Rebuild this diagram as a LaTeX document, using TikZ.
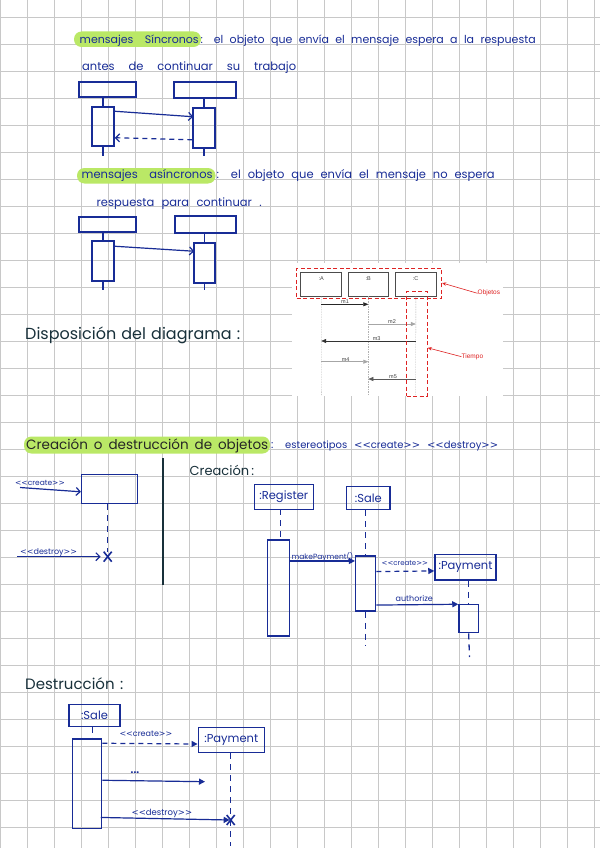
\documentclass[tikz,border=0pt]{standalone}
\usepackage{fontspec}
\setmainfont{Poppins}[Ligatures=TeXOff]
\newfontfamily\shotfont{Liberation Sans}
\newfontfamily\angf{DejaVu Sans}[Ligatures=TeXOff]
\usetikzlibrary{arrows.meta,calc}
\definecolor{inkblue}{RGB}{24,44,150}
\definecolor{darkink}{RGB}{24,48,58}
\definecolor{hilite}{RGB}{186,232,102}
\definecolor{gridgray}{RGB}{200,200,200}
\definecolor{shotred}{RGB}{222,35,35}
\newcommand\bxat[7]{\node[#1, minimum width={(#5)-(#3)}, minimum height={(#6)-(#4)}] (#2) at ({((#3)+(#5))/2},{((#4)+(#6))/2}) {#7};}
\newcommand\wtxt[1]{\fontsize{#1}{#1}\selectfont}
\newcommand\opn{{\angf<<}}
\newcommand\cls{{\angf>>}}
\begin{document}
\begin{tikzpicture}[x=1pt,y=-1pt,
  hw/.style={inner sep=0pt, anchor=base west, text=inkblue, font=\wtxt{11.5}},
  hd/.style={inner sep=0pt, anchor=base west, text=darkink},
  lbl/.style={inner sep=0pt, anchor=base west, text=inkblue, font=\wtxt{7.5}},
  bx/.style={draw=inkblue, line width=1.5pt, inner sep=0pt},
  obj/.style={draw=inkblue, line width=1.5pt, inner sep=0pt, text=inkblue, font=\wtxt{11.5}},
  life/.style={draw=inkblue, line width=1.3pt, dash pattern=on 6pt off 5pt},
  msg/.style={draw=inkblue, line width=1.2pt},
  dmsg/.style={draw=inkblue, line width=1.2pt, dash pattern=on 5pt off 4pt},
  openarr/.style={-{Straight Barb[length=4pt,width=8pt,line width=1.2pt]}},
  fillarr/.style={-{Triangle[length=6pt,width=6pt]}},
  hl/.style={fill=hilite, rounded corners=7.5pt},
  shotbox/.style={draw=black!70, line width=0.7pt, inner sep=0pt},
  shotlbl/.style={inner sep=0pt, font=\shotfont\fontsize{5.5}{5.5}\selectfont, text=black!75},
  shotlife/.style={draw=black!30, line width=0.4pt, dash pattern=on 1.5pt off 1pt},
  shotarr/.style={-{Triangle[length=5pt,width=4pt]}, line width=0.6pt},
  reddash/.style={draw=shotred, line width=0.9pt, dash pattern=on 4pt off 2.5pt},
  redarr/.style={draw=shotred, line width=0.6pt, -{Stealth[length=4pt,width=3.5pt]}},
  redlbl/.style={inner sep=0pt, anchor=west, text=shotred, font=\shotfont\fontsize{6.5}{7}\selectfont},
]
\useasboundingbox (0,0) rectangle (600,848);
\fill[white] (0,0) rectangle (600,848);
% grid
\foreach \i in {0,...,22} \draw[gridgray, line width=0.8pt] ({27*\i},0) -- ({27*\i},848);
\foreach \j in {0,...,30} \draw[gridgray, line width=0.8pt] (0,{17.3+27*\j}) -- (600,{17.3+27*\j});

% ---------- mensajes sincronos ----------
\fill[hl] (74,31.5) rectangle (201,47);
\node[hw, font=\wtxt{11}] (t1a) at (79.5,44) {\makebox[119pt][s]{mensajes Síncronos}};
\node[hw, font=\wtxt{11}] (t1b) at (200.5,44) {\makebox[335pt][s]{: el objeto que envía el mensaje espera a la respuesta}};
\node[hw] (t1c) at (82,71) {\makebox[214pt][s]{antes de continuar su trabajo}};

\bxat{bx}{s1a}{79}{82}{136}{97}{}
\bxat{bx}{s1b}{174}{82}{236}{98}{}
\bxat{bx}{s1aa}{92}{107}{114}{146}{}
\bxat{bx}{s1ba}{193}{108}{215}{148}{}
\coordinate (s1ae) at (103,156);
\coordinate (s1be) at (204,156);
\draw[msg] (s1aa.north) -- (s1aa.north |- s1a.south);
\draw[msg] (s1ba.north) -- (s1ba.north |- s1b.south);
\draw[msg] (s1aa.south) -- (s1ae);
\draw[msg] (s1ba.south) -- (s1be);
\draw[msg,openarr] ($(s1aa.north east)+(0,5)$) -- ($(s1ba.north west)+(1,9.5)$);
\draw[dmsg,openarr] ($(s1ba.south west)+(0,-9)$) -- ($(s1aa.south east)+(0,-9)$);

% ---------- mensajes asincronos ----------
\fill[hl] (77,168) rectangle (215.5,183.5);
\node[hw] (t2a) at (81.5,178.5) {\makebox[131pt][s]{mensajes asíncronos}};
\node[hw] (t2b) at (216.5,178.5) {\makebox[278pt][s]{: el objeto que envía el mensaje no espera}};
\node[hw] (t2c) at (96.5,206.5) {\makebox[165pt][s]{respuesta para continuar .}};

\bxat{bx}{s2a}{79}{217}{136}{232}{}
\bxat{bx}{s2b}{175}{216}{236}{233}{}
\bxat{bx}{s2aa}{92}{241}{114}{281}{}
\bxat{bx}{s2ba}{194}{243}{215}{283}{}
\coordinate (s2ae) at (103,290);
\coordinate (s2be) at (204.5,290);
\draw[msg] (s2aa.north) -- (s2aa.north |- s2a.south);
\draw[msg] (s2ba.north) -- (s2ba.north |- s2b.south);
\draw[msg] (s2aa.south) -- (s2ae);
\draw[msg] (s2ba.south) -- (s2be);
\draw[msg,openarr] ($(s2aa.north east)+(0,6)$) -- ($(s2ba.north west)+(1,9)$);

% ---------- screenshot ----------
\bxat{fill=white, inner sep=0pt}{panel}{291.7}{263}{503}{396}{}
\bxat{shotbox}{shA}{300.7}{272.7}{341.7}{296}{}
\bxat{shotbox}{shB}{348.3}{272.7}{388.3}{296}{}
\bxat{shotbox}{shC}{395}{272.7}{436.7}{296}{}
\node[shotlbl] (lA) at (321.3,278.5) {:A};
\node[shotlbl] (lB) at (368.3,278.5) {:B};
\node[shotlbl] (lC) at (415.7,278.5) {:C};
\coordinate (eA) at (321.3,395);
\coordinate (eB) at (368.3,395);
\coordinate (eC) at (415.7,395);
\draw[shotlife] (shA.south) -- (eA);
\draw[shotlife] (shB.south) -- (eB);
\draw[shotlife] (shC.south) -- (eC);
\draw[shotarr, black!85] (shA.south |- 0,304.3) -- (shB.south |- 0,304.3);
\draw[shotarr, black!35] (shB.south |- 0,324) -- (shC.south |- 0,324);
\draw[shotarr, black!80] (shC.south |- 0,341) -- (shA.south |- 0,341);
\draw[shotarr, black!35] (shA.south |- 0,361.7) -- (shB.south |- 0,361.7);
\draw[shotarr, black!65] (shC.south |- 0,379) -- (shB.south |- 0,379);
\node[shotlbl] (m1) at (345,301.5) {m1};
\node[shotlbl] (m2) at (392,321.5) {m2};
\node[shotlbl] (m3) at (376.7,338.3) {m3};
\node[shotlbl] (m4) at (345.7,359.3) {m4};
\node[shotlbl] (m5) at (393,376.7) {m5};
\bxat{reddash}{robj}{296.7}{268.3}{441.7}{298.3}{}
\bxat{reddash}{rtime}{406.7}{291.7}{427.3}{396}{}
\node[redlbl] (objl) at (477.5,293.3) {Objetos};
\node[redlbl] (timel) at (461.5,356.7) {Tiempo};
\draw[redarr] (objl.west) -- ($(robj.east)+(0,-0.3)$);
\draw[redarr] (timel.west) -- ($(rtime.east)+(0,4)$);

% ---------- Disposicion ----------
\node[hd, font=\wtxt{16}] (disp) at (25,339.5) {\makebox[215pt][s]{Disposición del diagrama :}};

% ---------- Creacion o destruccion ----------
\fill[hl] (24,436.5) rectangle (270,453.5);
\node[hd, font=\wtxt{13.5}, text=black!85] (t3a) at (26,449) {\makebox[242pt][s]{Creación o destrucción de objetos}};
\node[hw, font=\wtxt{11}] (t3b) at (271,448.5) {:};
\node[hw, font=\wtxt{10}] (t3c) at (285,448.5) {\makebox[213pt][s]{estereotipos \opn create\cls{} \opn destroy\cls}};

% left generic
\bxat{bx}{c1}{81.7}{474.3}{137.7}{503.3}{}
\node[lbl, font=\wtxt{7.5}] (cr1) at (15,485) {\opn create\cls};
\coordinate (cr1s) at (20,487.5);
\draw[msg,openarr] (cr1s) -- ($(c1.west)+(0,3)$);
\coordinate (x1) at (107.7,556.7);
\draw[life] (x1 |- c1.south) -- ($(x1)+(0,-5)$);
\draw[msg, line width=1.6pt] ($(x1)+(-4,-5)$) -- ($(x1)+(4,5)$) ($(x1)+(4,-5)$) -- ($(x1)+(-4,5)$);
\node[lbl, font=\wtxt{8}] (ds1) at (20,554) {\opn destroy\cls};
\coordinate (ds1s) at (17.3,556.7);
\draw[msg,openarr] (ds1s) -- ($(x1)+(-7,0)$);

% divider
\coordinate (dv1) at (163.3,458.3);
\coordinate (dv2) at (163.3,585);
\draw[darkink, line width=1.8pt] (dv1) -- (dv2);

\node[hd, font=\wtxt{13}] (crea) at (189.5,475.5) {\makebox[61pt][s]{Creación :}};

% right creation diagram
\bxat{obj}{reg}{254.3}{484.3}{313.3}{509.3}{:Register}
\bxat{obj}{sale}{346.7}{486.7}{390}{509.3}{:Sale}
\bxat{obj}{pay}{435}{554.3}{496}{580}{:Payment}
\bxat{bx}{ra}{267.7}{540}{289.3}{636}{}
\bxat{bx}{sa}{355.7}{556}{375.7}{611}{}
\bxat{bx}{pa}{459}{604.3}{478.3}{632.7}{}
\coordinate (sae) at (365.7,646);
\coordinate (pae) at (469.5,657);
\draw[life] (280.7,509.3) -- (280.7,540);
\draw[life] (sa.north |- sale.south) -- (sa.north);
\draw[life] (sa.south) -- (sae);
\draw[life] (pa.north |- pay.south) -- (pa.north);
\draw[life] (pa.south) -- (pae);
\node[lbl] (mp) at (291.5,559) {makePayment()};
\draw[msg,fillarr] ($(ra.north east)+(0,21.7)$) -- ($(sa.north west)+(0,5.7)$);
\node[lbl, font=\wtxt{7}] (cr2) at (381.5,565) {\opn create\cls};
\draw[dmsg,fillarr] ($(sa.north east)+(0,16.3)$) -- ($(pay.west)+(0,3.8)$);
\node[lbl, font=\wtxt{8}] (au) at (395.5,601) {authorize};
\draw[msg,fillarr] ($(sa.south east)+(0,-6.7)$) -- ($(pa.north west)+(0,0.7)$);

% ---------- Destruccion ----------
\node[hd, font=\wtxt{15}] (dest) at (25,689.5) {Destrucción};
\node[hd, font=\wtxt{15}] (destc) at (120,689.5) {:};
\bxat{obj}{sale2}{69}{704.3}{120}{726.7}{:Sale}
\bxat{obj}{pay2}{198.3}{727.3}{264.3}{752.3}{:Payment}
\bxat{bx}{sa2}{72.3}{739}{101.7}{828.3}{}
\draw[life] (92.7,726.7) -- (92.7,739);
\coordinate (x2) at (230.7,820);
\coordinate (p2e) at (230.7,846);
\draw[life] (x2 |- pay2.south) -- (x2);
\draw[life] (x2) -- (p2e);
\node[lbl, font=\wtxt{8}] (cr3) at (119.3,736) {\opn create\cls};
\draw[dmsg,fillarr] ($(sa2.north east)+(0,5)$) -- ($(pay2.west)+(0,4.2)$);
\node[lbl, font=\bfseries\wtxt{10}] (dots) at (130.5,773) {...};
\coordinate (ar3) at (205,781.7);
\draw[msg,fillarr] ($(sa2.north east)+(0,42)$) -- (ar3);
\node[lbl, font=\wtxt{8.5}] (ds2) at (131.5,815) {\opn destroy\cls};
\draw[msg,fillarr] ($(sa2.south east)+(-1.7,-11.6)$) -- ($(x2)+(-1,0)$);
\draw[msg, line width=1.6pt] ($(x2)+(-4,-5)$) -- ($(x2)+(4,5)$) ($(x2)+(4,-5)$) -- ($(x2)+(-4,5)$);
\end{tikzpicture}
\end{document}
